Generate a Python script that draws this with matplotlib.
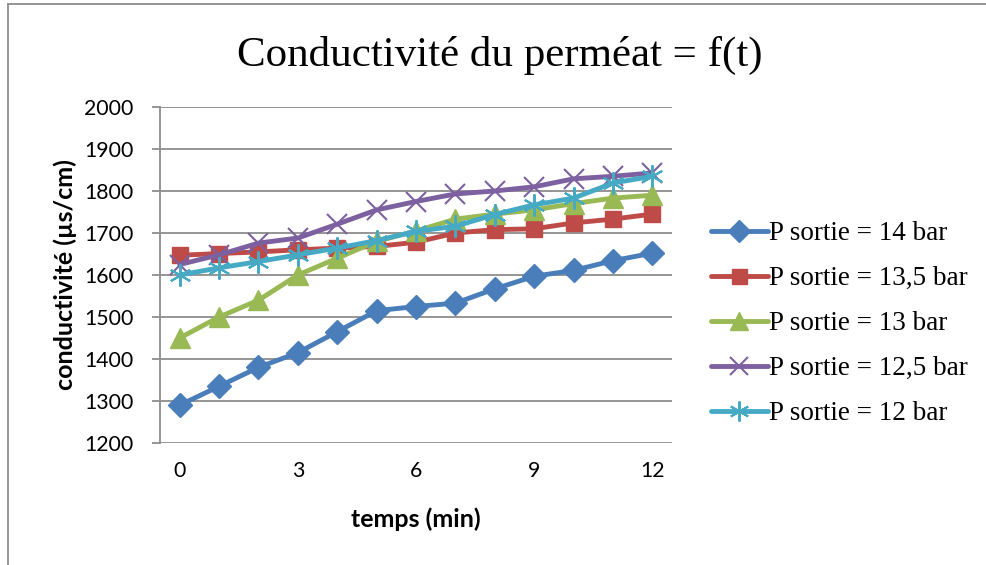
import matplotlib
matplotlib.use("Agg")
import matplotlib.pyplot as plt
from matplotlib.lines import Line2D

t = list(range(13))
p14 = [1290, 1335, 1380, 1415, 1465, 1515, 1525, 1533, 1567, 1597, 1611, 1634, 1652]
p135 = [1647, 1651, 1655, 1660, 1664, 1668, 1678, 1700, 1708, 1710, 1724, 1733, 1745]
p13 = [1450, 1500, 1540, 1600, 1640, 1680, 1705, 1733, 1745, 1755, 1770, 1783, 1790]
p125 = [1625, 1648, 1676, 1688, 1721, 1755, 1775, 1793, 1800, 1810, 1829, 1835, 1843]
p12 = [1600, 1617, 1632, 1648, 1664, 1682, 1704, 1716, 1744, 1767, 1783, 1819, 1835]

labels = ["P sortie = 14 bar", "P sortie = 13,5 bar", "P sortie = 13 bar",
          "P sortie = 12,5 bar", "P sortie = 12 bar"]
colors = ["#4A7EBB", "#BE4B48", "#98B954", "#7D60A0", "#46AAC5"]
markers = ["D", "s", "^", "x", "*"]
series = [p14, p135, p13, p125, p12]

W, H = 986, 565
fig = plt.figure(figsize=(W / 100, H / 100), dpi=100)
ax = fig.add_axes([160 / W, 1 - 443 / H, (672 - 160) / W, (443 - 107) / H])

tick_font = "Lato"
for ys, c, m, lab in zip(series, colors, markers, labels):
    kw = dict(color=c, lw=3.5, marker=m, label=lab, solid_capstyle="round")
    if m == "D":
        kw.update(markersize=12)
    elif m == "s":
        kw.update(markersize=12)
    elif m == "^":
        kw.update(markersize=14)
    elif m == "x":
        kw.update(markersize=14, markeredgewidth=1.5)
    else:
        kw.update(marker=(6, 2, 0), markersize=16, markeredgewidth=1.5)
    ax.plot(t, ys, **kw)

ax.set_xlim(-0.5, 12.5)
ax.set_ylim(1200, 2000)
ax.set_yticks(range(1200, 2001, 100))
ax.set_xticks([0, 3, 6, 9, 12])
ax.yaxis.grid(True, color="#8c8c8c", lw=1.3)
ax.set_axisbelow(True)
for s in ["top", "right", "bottom"]:
    ax.spines[s].set_visible(False)
ax.spines["left"].set_color("#8c8c8c")
ax.spines["left"].set_linewidth(1.3)
ax.tick_params(axis="y", length=6, width=1.3, color="#8c8c8c", pad=13,
               labelsize=15.3)
ax.tick_params(axis="x", length=0, pad=13, labelsize=15.3)
for lbl in ax.get_xticklabels() + ax.get_yticklabels():
    lbl.set_fontfamily(tick_font)

ax.set_xlabel("temps (min)", fontsize=18, fontweight="bold",
              fontfamily=tick_font, labelpad=19)
ax.set_ylabel("conductivité (µs/cm)", fontsize=18, fontweight="bold",
              fontfamily=tick_font, labelpad=5)

fig.text(500 / W, 1 - 55 / H, "Conductivité du perméat = f(t)",
         fontsize=31, fontfamily="Liberation Serif", ha="center", va="center")

leg = ax.legend(loc="upper left", bbox_to_anchor=(711 / W, 1 - 221 / H),
                bbox_transform=fig.transFigure, frameon=False,
                prop={"family": "Liberation Serif", "size": 19.5},
                handlelength=2.1, handletextpad=0.05, labelspacing=0.74,
                borderaxespad=0, borderpad=0, markerscale=0.9)

# figure border (top and left)
fig.add_artist(Line2D([8 / W, 1], [1 - 4 / H, 1 - 4 / H], color="#8c8c8c",
                      lw=1.3, transform=fig.transFigure))
fig.add_artist(Line2D([8 / W, 8 / W], [0, 1 - 4 / H], color="#8c8c8c",
                      lw=1.3, transform=fig.transFigure))

fig.savefig("out.png", dpi=100)
